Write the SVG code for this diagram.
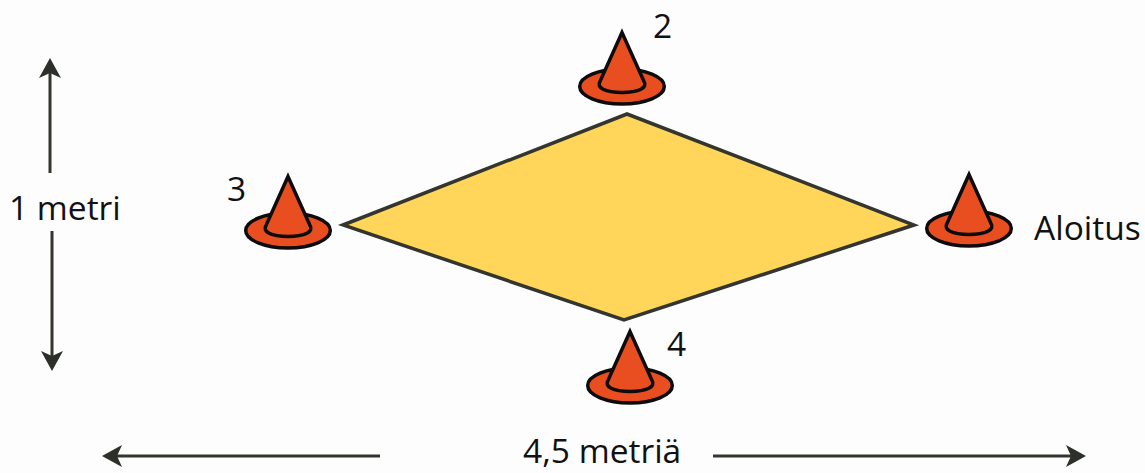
<svg xmlns="http://www.w3.org/2000/svg" width="1145" height="473" viewBox="0 0 1145 473">
<style>
text{font-family:"Open Sans","Noto Sans","Liberation Sans",sans-serif;font-size:33.5px;fill:#111}
.dim{fill:none;stroke:#33352f;stroke-width:3}
.ah{fill:#2d2f2a}
.c{fill:#e84e1f;stroke:#0c0c0c;stroke-width:3.5;stroke-linejoin:miter}
</style>
<defs>
<g id="cone">
<ellipse class="c" cx="0" cy="0" rx="42.3" ry="17.4"/>
<path class="c" d="M0,-54 L-22,-5 C-26,1 -17,6 0,6 C17,6 26,1 22,-5 Z"/>
</g>
</defs>
<rect width="1145" height="473" fill="#fdfdfd"/>
<g id="square"><polygon points="627,114 914,225 624,320 343,225" fill="#ffd65a" stroke="#33352f" stroke-width="3.5"/></g>
<g id="cone-2"><use href="#cone" x="622" y="86.5"/><text x="653" y="38">2</text></g>
<g id="cone-3"><use href="#cone" x="288" y="230.5"/><text x="227" y="201">3</text></g>
<g id="cone-start"><use href="#cone" x="969" y="228.5"/><text x="1034" y="240">Aloitus</text></g>
<g id="cone-4"><use href="#cone" x="630" y="385.5"/><text x="667" y="356">4</text></g>
<g id="connectors">
<path class="dim" d="M50,173V70"/><path class="ah" d="M50,58L61,78L50,73L39,78Z"/>
<path class="dim" d="M52,231V358"/><path class="ah" d="M52,371L41,351L52,356L63,351Z"/>
<path class="dim" d="M380,456H114"/><path class="ah" d="M102,456L122,445L117,456L122,467Z"/>
<path class="dim" d="M713,456H1074"/><path class="ah" d="M1086,456L1066,445L1071,456L1066,467Z"/>
</g>
<text x="9" y="220">1 metri</text>
<text x="523" y="463">4,5 metriä</text>
</svg>
